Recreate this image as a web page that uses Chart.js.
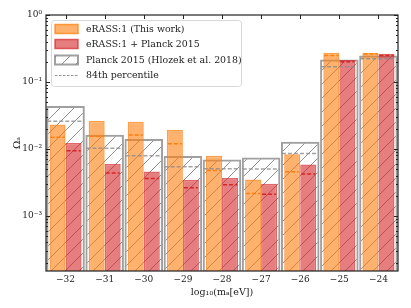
<!DOCTYPE html>
<html>
<head>
<meta charset="utf-8">
<script src="https://cdn.jsdelivr.net/npm/chart.js@4/dist/chart.umd.min.js"></script>
<style>
  body { margin: 0; background: #fff; }
  #wrap { width: 411px; height: 308px; }
</style>
</head>
<body>
<div id="wrap"><canvas id="c" width="411" height="308"></canvas></div>
<script>
// axion mass bins, log10(m_a [eV])
const massLabels = ["−32", "−31", "−30", "−29", "−28", "−27", "−26", "−25", "−24"];

// eRASS:1 (This work)
const erass      = [0.0232, 0.0264, 0.0255, 0.0191, 0.00789, 0.0035, 0.0083, 0.273, 0.273];
const erass84    = [0.0149, 0.0155, 0.0161, 0.0119, 0.00477, 0.00216, 0.00455, 0.249, 0.261];

// eRASS:1 + Planck 2015
const combined   = [0.0123, 0.00593, 0.0046, 0.00345, 0.00366, 0.00301, 0.00586, 0.212, 0.264];
const combined84 = [0.00937, 0.00435, 0.00362, 0.00262, 0.00291, 0.00211, 0.0042, 0.200, 0.249];

// Planck 2015 (Hlozek et al. 2018)
const hlozek     = [0.0436, 0.0163, 0.0140, 0.0078, 0.00697, 0.00746, 0.0128, 0.217, 0.249];
const hlozek84   = [0.0258, 0.0102, 0.00789, 0.0054, 0.00504, 0.00499, 0.0085, 0.169, 0.222];

const yTickLabels = { "-3": "10⁻³", "-2": "10⁻²", "-1": "10⁻¹", "0": "10⁰" };

const SERIF = "'DejaVu Serif', 'Liberation Serif', serif";

// hatch pattern for the Planck bars ( '/' )
function makeHatch(size, color) {
  const p = document.createElement("canvas");
  p.width = size; p.height = size;
  const c = p.getContext("2d");
  c.strokeStyle = color;
  c.lineWidth = 0.8;
  c.beginPath();
  c.moveTo(0, size); c.lineTo(size, 0);
  c.moveTo(-1, 1); c.lineTo(1, -1);
  c.moveTo(size - 1, size + 1); c.lineTo(size + 1, size - 1);
  c.stroke();
  return c.createPattern(p, "repeat");
}

const ctx = document.getElementById("c").getContext("2d");
const hatch = makeHatch(14, "rgba(70,70,70,0.75)");

// which dataset gets which dashed 84th percentile line
const dashSpec = [
  { ds: 0, values: erass84,    color: "#ff7f0e" },
  { ds: 1, values: combined84, color: "#d62728" },
  { ds: 2, values: hlozek84,   color: "rgba(140,140,140,0.8)" },
];

const percentileLines = {
  id: "percentileLines",
  afterDatasetsDraw(chart) {
    const { ctx, scales } = chart;
    dashSpec.forEach(spec => {
      const meta = chart.getDatasetMeta(spec.ds);
      meta.data.forEach((bar, i) => {
        const y = scales.y.getPixelForValue(spec.values[i]);
        const half = bar.width / 2 - 1;
        ctx.save();
        ctx.beginPath();
        ctx.moveTo(bar.x - half, y);
        ctx.lineTo(bar.x + half, y);
        ctx.strokeStyle = spec.color;
        ctx.lineWidth = 1.5;
        ctx.setLineDash([4, 2]);
        ctx.stroke();
        ctx.restore();
      });
    });
  }
};

// frame + inward ticks like matplotlib
const frameTicks = {
  id: "frameTicks",
  afterDraw(chart) {
    const { ctx, chartArea: a, scales } = chart;
    ctx.save();
    ctx.strokeStyle = "#222";
    ctx.lineWidth = 1;
    ctx.beginPath();
    for (let e = -4; e <= 0; e++) {
      for (let m = 1; m <= 9; m++) {
        const v = m * Math.pow(10, e);
        if (v < scales.y.min || v > scales.y.max) continue;
        const y = Math.round(scales.y.getPixelForValue(v)) + 0.5;
        const len = m === 1 ? 4 : 2;
        ctx.moveTo(a.left, y);  ctx.lineTo(a.left + len, y);
        ctx.moveTo(a.right, y); ctx.lineTo(a.right - len, y);
      }
    }
    massLabels.forEach((l, i) => {
      const x = Math.round(scales.x.getPixelForValue(i)) + 0.5;
      ctx.moveTo(x, a.top); ctx.lineTo(x, a.top + 4);
    });
    ctx.stroke();
    ctx.lineWidth = 1.2;
    ctx.strokeRect(a.left, a.top, a.right - a.left, a.bottom - a.top);
    ctx.restore();
  }
};

const legendBox = {
  id: "legendBox",
  afterDraw(chart) {
    const { ctx } = chart;
    const x0 = 51, y0 = 20, w = 190, h = 66;
    ctx.save();
    ctx.beginPath();
    ctx.roundRect(x0 + 0.5, y0 + 0.5, w, h, 3);
    ctx.fillStyle = "rgba(255,255,255,0.85)";
    ctx.fill();
    ctx.strokeStyle = "#d8d8d8";
    ctx.lineWidth = 1;
    ctx.stroke();

    const rows = [
      { text: "eRASS:1 (This work)", fill: "rgba(255,127,14,0.6)", edge: "rgba(255,127,14,0.75)" },
      { text: "eRASS:1 + Planck 2015", fill: "rgba(214,39,40,0.6)", edge: "rgba(214,39,40,0.7)" },
      { text: "Planck 2015 (Hlozek et al. 2018)", fill: hatch, edge: "rgba(128,128,128,0.75)" },
      { text: "84th percentile", dash: true },
    ];
    const ys = [29, 44, 60, 75.5];
    ctx.font = "9.4px " + SERIF;
    ctx.textBaseline = "middle";
    rows.forEach((r, i) => {
      const y = ys[i];
      if (r.dash) {
        ctx.beginPath();
        ctx.moveTo(55, y); ctx.lineTo(78, y);
        ctx.strokeStyle = "#777";
        ctx.lineWidth = 0.8;
        ctx.setLineDash([2.5, 1.5]);
        ctx.stroke();
        ctx.setLineDash([]);
      } else {
        ctx.fillStyle = "#fff";
        ctx.fillRect(55, y - 4.5, 23, 9);
        ctx.fillStyle = r.fill;
        ctx.fillRect(55, y - 4.5, 23, 9);
        ctx.strokeStyle = r.edge;
        ctx.lineWidth = i === 2 ? 2 : 1.5;
        ctx.strokeRect(55, y - 4.5, 23, 9);
      }
      ctx.fillStyle = "#222";
      ctx.fillText(r.text, 86, y + 0.5);
    });
    ctx.restore();
  }
};

new Chart(ctx, {
  type: "bar",
  data: {
    labels: massLabels,
    datasets: [
      {
        label: "eRASS:1 (This work)",
        data: erass,
        backgroundColor: "rgba(255,127,14,0.6)",
        borderColor: "rgba(255,127,14,0.75)",
        borderWidth: 1.5,
        categoryPercentage: 0.82,
        barPercentage: 1.0,
        order: 1,
      },
      {
        label: "eRASS:1 + Planck 2015",
        data: combined,
        backgroundColor: "rgba(214,39,40,0.6)",
        borderColor: "rgba(214,39,40,0.7)",
        borderWidth: 1.5,
        categoryPercentage: 0.82,
        barPercentage: 1.0,
        order: 2,
      },
      {
        label: "Planck 2015 (Hlozek et al. 2018)",
        data: hlozek,
        backgroundColor: hatch,
        borderColor: "rgba(128,128,128,0.75)",
        borderWidth: 2,
        grouped: false,
        categoryPercentage: 1.0,
        barPercentage: 0.985,
        order: 3,
      },
    ]
  },
  plugins: [percentileLines, frameTicks, legendBox],
  options: {
    responsive: false,
    devicePixelRatio: 1,
    animation: false,
    layout: { padding: { top: 15, right: 13, left: 0, bottom: 0 } },
    scales: {
      x: {
        offset: true,
        grid: { display: false, drawTicks: false },
        border: { display: false },
        ticks: { color: "#222", padding: 3, font: { family: SERIF, size: 9 } },
        title: {
          display: true,
          text: "log₁₀(mₐ[eV])",
          color: "#222",
          font: { family: SERIF, size: 9.5 },
          padding: { top: 0, bottom: 10 },
        },
        afterFit: s => { s.height = 37; },
      },
      y: {
        type: "logarithmic",
        min: 1.5e-4,
        max: 1,
        grid: { display: false, drawTicks: false },
        border: { display: false },
        ticks: {
          color: "#222",
          padding: 4,
          autoSkip: false,
          font: { family: SERIF, size: 9 },
          callback: v => {
            const e = Math.log10(v);
            return Math.abs(e - Math.round(e)) < 1e-9 ? (yTickLabels[String(Math.round(e))] || "") : "";
          }
        },
        title: {
          display: true,
          text: "Ωₐ",
          color: "#222",
          font: { family: SERIF, size: 10 },
          padding: { top: 11, bottom: 0 },
        },
        afterFit: s => { s.width = 46; },
      }
    },
    plugins: {
      legend: { display: false },
      tooltip: { enabled: false },
    }
  }
});
</script>
</body>
</html>
